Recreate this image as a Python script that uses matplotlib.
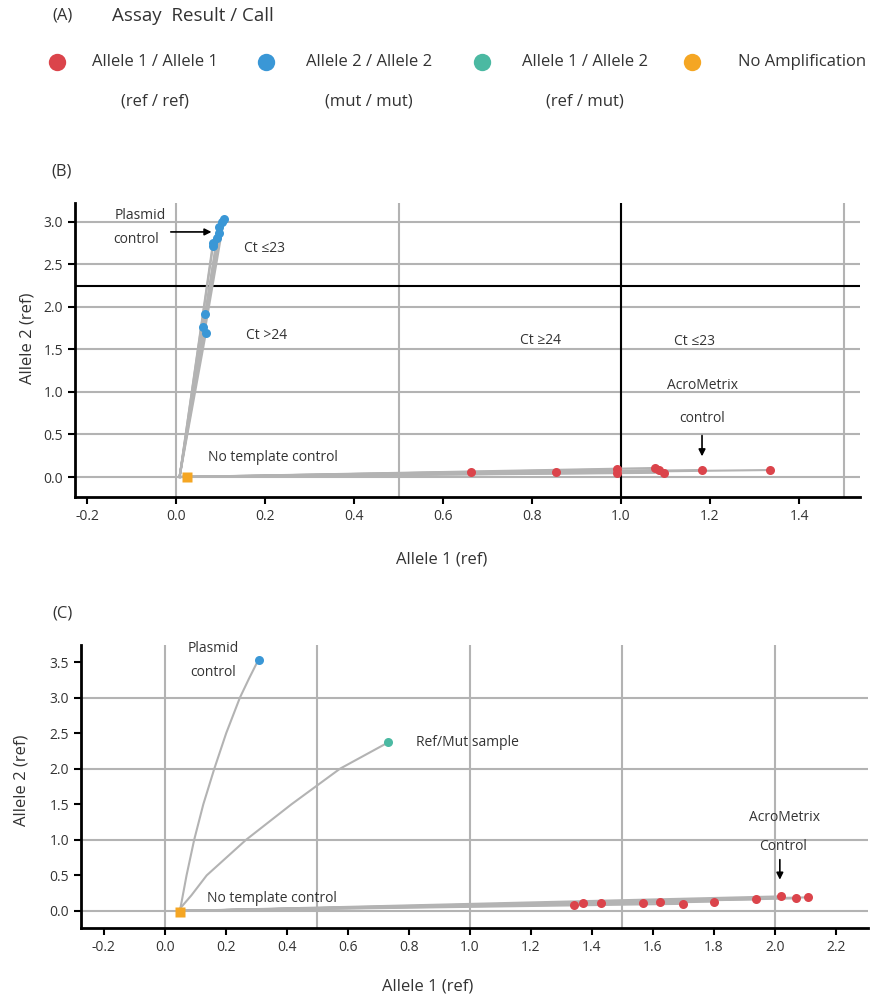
#!/usr/bin/env python3
import matplotlib
matplotlib.use('Agg')
import matplotlib.pyplot as plt

plt.rcParams['font.family'] = ['Open Sans', 'DejaVu Sans']

RED = '#db444b'
BLUE = '#3a97d6'
TEAL = '#4bb9a2'
ORANGE = '#f5a623'
GRAY = '#b3b3b3'
TEXT = '#333333'

# DATA

legend_labels = ['Allele 1 / Allele 1', 'Allele 2 / Allele 2', 'Allele 1 / Allele 2', 'No Amplification']
legend_sublabels = ['(ref / ref)', '(mut / mut)', '(ref / mut)', '']
legend_colors = [RED, BLUE, TEAL, ORANGE]

# panel B
b_blue_x = [0.108, 0.103, 0.097, 0.097, 0.092, 0.083, 0.083, 0.065, 0.061, 0.067]
b_blue_y = [3.035, 3.00, 2.94, 2.87, 2.81, 2.75, 2.71, 1.92, 1.76, 1.69]
b_red_x = [0.663, 0.854, 0.991, 0.991, 1.076, 1.085, 1.097, 1.182, 1.335]
b_red_y = [0.059, 0.059, 0.090, 0.050, 0.106, 0.082, 0.050, 0.082, 0.082]
b_ntc = (0.025, -0.005)
b_start = (0.008, 0.0)
b_xticks = [-0.2, 0.0, 0.2, 0.4, 0.6, 0.8, 1.0, 1.2, 1.4]
b_yticks = [0.0, 0.5, 1.0, 1.5, 2.0, 2.5, 3.0]
b_xgrid = [0.0, 0.5, 1.0, 1.5]

# panel C
c_blue = (0.307, 3.535)
c_blue_path_x = [0.051, 0.071, 0.096, 0.126, 0.162, 0.201, 0.246, 0.276, 0.307]
c_blue_path_y = [0.04, 0.5, 1.0, 1.5, 2.0, 2.5, 3.0, 3.27, 3.535]
c_teal = (0.732, 2.37)
c_teal_path_x = [0.051, 0.087, 0.137, 0.266, 0.415, 0.574, 0.732]
c_teal_path_y = [0.04, 0.22, 0.5, 1.0, 1.5, 2.0, 2.37]
c_red_x = [1.341, 1.372, 1.430, 1.567, 1.623, 1.700, 1.800, 1.939, 2.020, 2.068, 2.109]
c_red_y = [0.089, 0.117, 0.117, 0.117, 0.131, 0.100, 0.131, 0.163, 0.205, 0.177, 0.191]
c_ntc = (0.049, -0.01)
c_xticks = [-0.2, 0.0, 0.2, 0.4, 0.6, 0.8, 1.0, 1.2, 1.4, 1.6, 1.8, 2.0, 2.2]
c_yticks = [0.0, 0.5, 1.0, 1.5, 2.0, 2.5, 3.0, 3.5]
c_xgrid = [0.0, 0.5, 1.0, 1.5, 2.0]
c_ygrid = [0.0, 1.0, 2.0, 3.0]


# FUNCTIONS

# Top legend block (A)
def draw_legend(fig):
    fig.text(62 / 871, 1 - 16 / 999, '(A)', ha='center', va='center', fontsize=12, color=TEXT)
    fig.text(112 / 871, 1 - 16 / 999, 'Assay  Result / Call', ha='left', va='center', fontsize=13.5, color=TEXT)
    ax = fig.add_axes([0, 0, 1, 1], facecolor='none')
    ax.set_xlim(0, 871)
    ax.set_ylim(999, 0)
    ax.axis('off')
    dots_x = [57, 266, 482, 692]
    centers = [155, 369, 585, 802]
    for dx, cx, lab, sub, col in zip(dots_x, centers, legend_labels, legend_sublabels, legend_colors):
        ax.plot(dx, 62, 'o', ms=12.5, color=col, mec='none')
        ax.text(cx, 62, lab, ha='center', va='center', fontsize=12, color=TEXT)
        if sub:
            ax.text(cx, 101, sub, ha='center', va='center', fontsize=12, color=TEXT)


# Shared axes styling
def style_axes(ax, xticks, yticks, xgrid, ygrid):
    for s in ['top', 'right']:
        ax.spines[s].set_visible(False)
    for s in ['left', 'bottom']:
        ax.spines[s].set_linewidth(2)
        ax.spines[s].set_color('black')
    ax.set_xticks(xticks)
    ax.set_xticklabels([f'{t:.1f}' for t in xticks])
    ax.set_yticks(yticks)
    ax.set_yticklabels([f'{t:.1f}' for t in yticks])
    ax.tick_params(length=5, width=1.5, labelsize=10, labelcolor=TEXT)
    for g in xgrid:
        ax.axvline(g, color=GRAY, lw=1.5, zorder=0)
    for g in ygrid:
        ax.axhline(g, color=GRAY, lw=1.5, zorder=0)


def panel_b(fig):
    ax = fig.add_axes([75 / 871, 1 - 497 / 999, 785 / 871, 294 / 999])
    ax.set_xlim(-0.227, 1.537)
    ax.set_ylim(-0.235, 3.22)
    style_axes(ax, b_xticks, b_yticks, b_xgrid, b_yticks)
    ax.axvline(1.0, color='black', lw=1.5, zorder=1)
    ax.axhline(2.25, color='black', lw=1.5, zorder=1)

    for x, y in zip(b_blue_x + b_red_x, b_blue_y + b_red_y):
        ax.plot([b_start[0], x], [b_start[1], y], color=GRAY, lw=1.5, zorder=2)
    ax.plot(b_blue_x, b_blue_y, 'o', ms=6.5, color=BLUE, mec='none', zorder=3)
    ax.plot(b_red_x, b_red_y, 'o', ms=6.5, color=RED, mec='none', zorder=3)
    ax.plot(*b_ntc, 's', ms=7, color=ORANGE, mec='none', zorder=4)

    kw = dict(ha='center', va='center', fontsize=10, color=TEXT)
    ax.text(-0.08, 3.07, 'Plasmid', **kw)
    ax.text(-0.09, 2.79, 'control', **kw)
    ax.annotate('', xy=(0.086, 2.88), xytext=(-0.018, 2.88),
                arrowprops=dict(arrowstyle='-|>', color='black', lw=1.2, mutation_scale=10))
    ax.text(0.198, 2.68, 'Ct ≤23', **kw)
    ax.text(0.204, 1.66, 'Ct >24', **kw)
    ax.text(0.072, 0.235, 'No template control', ha='left', va='center', fontsize=10, color=TEXT)
    ax.text(0.82, 1.61, 'Ct ≥24', **kw)
    ax.text(1.164, 1.59, 'Ct ≤23', **kw)
    ax.text(1.184, 1.07, 'AcroMetrix', **kw)
    ax.text(1.182, 0.69, 'control', **kw)
    ax.annotate('', xy=(1.182, 0.21), xytext=(1.182, 0.52),
                arrowprops=dict(arrowstyle='-|>', color='black', lw=1.2, mutation_scale=10))

    ax.set_xlabel('Allele 1 (ref)', fontsize=12, color=TEXT)
    ax.set_ylabel('Allele 2 (ref)', fontsize=12, color=TEXT)
    ax.xaxis.set_label_coords(0.4675, -0.214)
    ax.yaxis.set_label_coords(-0.061, 0.541)
    ax.xaxis.label.set_va('center')
    ax.yaxis.label.set_va('center')
    fig.text(62 / 871, 1 - 172 / 999, '(B)', ha='center', va='center', fontsize=12, color=TEXT)


def panel_c(fig):
    ax = fig.add_axes([81 / 871, 1 - 928 / 999, 787 / 871, 283 / 999])
    ax.set_xlim(-0.275, 2.305)
    ax.set_ylim(-0.24, 3.74)
    style_axes(ax, c_xticks, c_yticks, c_xgrid, c_ygrid)

    ax.plot(c_blue_path_x, c_blue_path_y, color=GRAY, lw=1.5, zorder=2)
    ax.plot(c_teal_path_x, c_teal_path_y, color=GRAY, lw=1.5, zorder=2)
    for x, y in zip(c_red_x, c_red_y):
        ax.plot([c_ntc[0], x], [0.0, y], color=GRAY, lw=1.5, zorder=2)
    ax.plot(*c_blue, 'o', ms=6.5, color=BLUE, mec='none', zorder=3)
    ax.plot(*c_teal, 'o', ms=6.5, color=TEAL, mec='none', zorder=3)
    ax.plot(c_red_x, c_red_y, 'o', ms=6.5, color=RED, mec='none', zorder=3)
    ax.plot(*c_ntc, 's', ms=7, color=ORANGE, mec='none', zorder=4)

    kw = dict(ha='center', va='center', fontsize=10, color=TEXT)
    ax.text(0.157, 3.69, 'Plasmid', **kw)
    ax.text(0.157, 3.36, 'control', **kw)
    ax.text(0.823, 2.37, 'Ref/Mut sample', ha='left', va='center', fontsize=10, color=TEXT)
    ax.text(0.138, 0.17, 'No template control', ha='left', va='center', fontsize=10, color=TEXT)
    ax.text(2.03, 1.32, 'AcroMetrix', **kw)
    ax.text(2.027, 0.90, 'Control', **kw)
    ax.annotate('', xy=(2.016, 0.40), xytext=(2.016, 0.76),
                arrowprops=dict(arrowstyle='-|>', color='black', lw=1.2, mutation_scale=10))

    ax.set_xlabel('Allele 1 (ref)', fontsize=12, color=TEXT)
    ax.set_ylabel('Allele 2 (ref)', fontsize=12, color=TEXT)
    ax.xaxis.set_label_coords(0.441, -0.208)
    ax.yaxis.set_label_coords(-0.075, 0.523)
    ax.xaxis.label.set_va('center')
    ax.yaxis.label.set_va('center')
    fig.text(62 / 871, 1 - 613 / 999, '(C)', ha='center', va='center', fontsize=12, color=TEXT)


def main():
    fig = plt.figure(figsize=(8.71, 9.99), dpi=100)
    draw_legend(fig)
    panel_b(fig)
    panel_c(fig)
    fig.savefig('out.png', dpi=100)
    plt.close(fig)


if __name__ == "__main__":
    main()
